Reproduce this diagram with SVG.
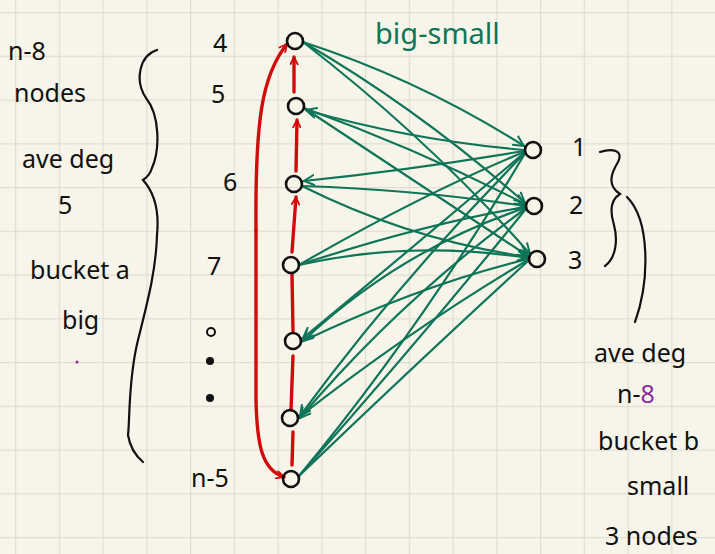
<svg xmlns="http://www.w3.org/2000/svg" width="715" height="554" viewBox="0 0 715 554">
<defs>
<pattern id="grid" x="15" y="12" width="43.75" height="43.75" patternUnits="userSpaceOnUse">
<path d="M0,0 V43.75 M0,0 H43.75" fill="none" stroke="#e0ded3" stroke-width="2.5"/>
</pattern>
<marker id="ag" viewBox="0 0 12 12" refX="11" refY="6" markerWidth="12" markerHeight="12" markerUnits="userSpaceOnUse" orient="auto">
<path d="M1,1 L11,6 L1,11" fill="none" stroke="#0f7558" stroke-width="2" stroke-linecap="round"/>
</marker>
<marker id="ar" viewBox="0 0 12 12" refX="11" refY="6" markerWidth="9" markerHeight="9" markerUnits="userSpaceOnUse" orient="auto">
<path d="M1,1 L11,6 L1,11" fill="none" stroke="#d10a0a" stroke-width="2.4" stroke-linecap="round"/>
</marker>
</defs>
<style>
.t{font-family:"Noto Sans","DejaVu Sans",sans-serif;fill:#111;font-size:25px;}
.g{fill:none;stroke:#0f7558;stroke-width:2.2;stroke-linecap:round;}
.r{fill:none;stroke:#d10a0a;stroke-width:3.4;stroke-linecap:round;}
.n{fill:none;stroke:#111;stroke-width:2.6;}
.k{fill:none;stroke:#111;stroke-width:2.2;stroke-linecap:round;}
</style>
<rect width="715" height="554" fill="#f7f5ea"/>
<rect width="715" height="554" fill="url(#grid)"/>

<g id="labels-left">
<text class="t" x="8" y="60">n-8</text>
<text class="t" x="14" y="102">nodes</text>
<text class="t" x="22" y="168">ave deg</text>
<text class="t" x="58" y="214">5</text>
<text class="t" x="30" y="279">bucket a</text>
<text class="t" x="62" y="329">big</text>
<circle cx="77" cy="362" r="1.5" fill="#8a2a9a"/>
<path class="k" d="M157,50 C140,55 134,80 146,98 C160,115 160,150 152,168 C150,175 146,178 143,180 C152,190 160,205 157,235 C156,270 148,300 138,340 C128,380 130,420 128,435 C130,448 136,456 143,462"/>
</g>

<g id="index-labels">
<text class="t" x="213" y="52" font-size="27">4</text>
<text class="t" x="211" y="103" font-size="27">5</text>
<text class="t" x="223" y="191" font-size="27">6</text>
<text class="t" x="207" y="275" font-size="27">7</text>
<circle cx="211" cy="332" r="4" fill="none" stroke="#111" stroke-width="2"/>
<circle cx="210" cy="361" r="4" fill="#111"/>
<circle cx="210" cy="398" r="4" fill="#111"/>
<text class="t" x="191" y="487" font-size="27">n-5</text>
</g>

<g id="connectors">
<path class="r" d="M294,92 L294,57" marker-end="url(#ar)"/>
<path class="r" d="M296,171 L297,120" marker-end="url(#ar)"/>
<path class="r" d="M292,252 L296,197" marker-end="url(#ar)"/>
<path class="r" d="M293,331 L292,274"/>
<path class="r" d="M291,410 L293,356"/>
<path class="r" d="M292,465 L293,432"/>
<path class="r" d="M256,230 C255,120 262,75 287,44" marker-end="url(#ar)"/>
<path class="r" d="M256,230 L256,400 C257,445 262,470 284,477" marker-end="url(#ar)"/>
<path class="g" d="M303,42 Q420,80 524,146" marker-end="url(#ag)"/>
<path class="g" d="M303,42 Q420,110 525,203" marker-end="url(#ag)"/>
<path class="g" d="M303,42 Q430,140 530,254" marker-end="url(#ag)"/>
<path class="g" d="M524,150 Q410,140 306,110" marker-end="url(#ag)"/>
<path class="g" d="M304,108 Q420,150 525,204" marker-end="url(#ag)"/>
<path class="g" d="M304,108 Q420,185 528,256" marker-end="url(#ag)"/>
<path class="g" d="M524,151 Q410,170 304,181" marker-end="url(#ag)"/>
<path class="g" d="M302,186 Q420,190 525,206" marker-end="url(#ag)"/>
<path class="g" d="M302,186 Q410,240 528,257" marker-end="url(#ag)"/>
<path class="g" d="M299,265 Q420,195 524,152"/>
<path class="g" d="M299,265 Q420,225 525,207"/>
<path class="g" d="M299,265 Q410,240 528,258" marker-end="url(#ag)"/>
<path class="g" d="M524,153 Q410,250 303,338" marker-end="url(#ag)"/>
<path class="g" d="M525,208 Q400,250 303,341" marker-end="url(#ag)"/>
<path class="g" d="M301,342 Q420,285 528,259"/>
<path class="g" d="M524,154 Q400,280 300,416" marker-end="url(#ag)"/>
<path class="g" d="M525,209 Q400,300 300,418" marker-end="url(#ag)"/>
<path class="g" d="M298,418 Q410,330 528,260"/>
<path class="g" d="M299,476 Q420,330 524,155"/>
<path class="g" d="M299,476 Q420,340 525,210"/>
<path class="g" d="M299,476 Q420,360 528,261"/>
</g>

<g id="big-nodes">
<circle id="n4" class="n" cx="295" cy="41" r="8"/>
<circle id="n5" class="n" cx="296" cy="106" r="8"/>
<circle id="n6" class="n" cx="294" cy="184" r="8"/>
<circle id="n7" class="n" cx="291" cy="265" r="8"/>
<circle id="n8" class="n" cx="293" cy="341" r="8"/>
<circle id="n9" class="n" cx="290" cy="418" r="8"/>
<circle id="n10" class="n" cx="291" cy="479" r="8"/>
</g>

<g id="small-nodes">
<circle id="s1" class="n" cx="533" cy="150" r="8"/>
<circle id="s2" class="n" cx="534" cy="206" r="8"/>
<circle id="s3" class="n" cx="537" cy="259" r="8"/>
</g>

<g id="labels-right">
<text x="375" y="44" font-family="Noto Sans, DejaVu Sans, sans-serif" font-size="29" fill="#0f7558">big-small</text>
<text class="t" x="572" y="156" font-size="27">1</text>
<text class="t" x="569" y="214" font-size="27">2</text>
<text class="t" x="568" y="269" font-size="27">3</text>
<path class="k" d="M600,152 C612,148 624,150 618,162 C612,172 606,185 620,194 C610,200 610,212 614,225 C618,240 616,258 605,266"/>
<path class="k" d="M627,197 C650,220 650,280 635,322"/>
<text class="t" x="594" y="362">ave deg</text>
<text class="t" x="617" y="403">n-<tspan fill="#8a2a9a">8</tspan></text>
<text class="t" x="598" y="450">bucket b</text>
<text class="t" x="627" y="495">small</text>
<text class="t" x="605" y="545">3 nodes</text>
</g>
</svg>
